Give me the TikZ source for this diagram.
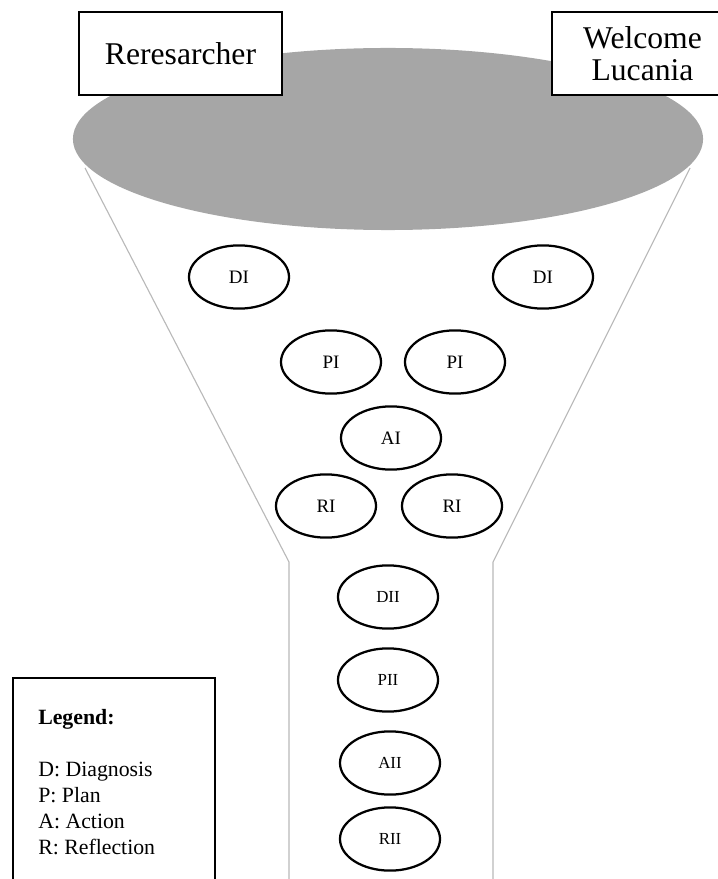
\documentclass[tikz,border=0pt]{standalone}
\usepackage{fontspec}
\setmainfont{Liberation Serif}
\usetikzlibrary{shapes.geometric}
\definecolor{funnelgray}{RGB}{166,166,166}
\definecolor{wallgray}{RGB}{185,185,185}
\tikzset{
	stage/.style={draw, ellipse, line width=1.6pt, minimum width=2.5cm, minimum height=1.58cm, inner sep=0pt, font=\fontsize{13.5}{15}\selectfont},
	substage/.style={stage, font=\fontsize{12}{14}\selectfont},
	actorbox/.style={draw, fill=white, line width=1.5pt, inner sep=0pt, align=center, font=\fontsize{22.5}{23}\selectfont},
	wall/.style={draw=wallgray, line width=0.8pt}
}
\begin{document}
\begin{tikzpicture}[x=0.025cm, y=-0.025cm]
			\useasboundingbox (0,0) rectangle (717,879);
			%\draw[help lines, color=gray!30, dashed] (0,0) grid[step=50] (717,879);
			% funnel walls
			\coordinate (wl1) at (85,168);
			\coordinate (wl2) at (289,562);
			\coordinate (wl3) at (289,890);
			\coordinate (wr1) at (690,168);
			\coordinate (wr2) at (493,562);
			\coordinate (wr3) at (493,890);
			\draw[wall] (wl1) -- (wl2) -- (wl3);
			\draw[wall] (wr1) -- (wr2) -- (wr3);
			\fill[funnelgray] (388,139) ellipse (7.875cm and 2.275cm);
			% actors
			\node[actorbox, minimum width=5.075cm, minimum height=2.075cm] (res) at (180.5,53.5) {Reresarcher};
			\node[actorbox, minimum width=4.525cm, minimum height=2.075cm] (wel) at (642.5,53.5) {Welcome\\Lucania};
			% first cycle
			\node[stage] (d1l) at (239,277) {DI};
			\node[stage] (d1r) at (543,277) {DI};
			\node[stage] (p1l) at (331,362) {PI};
			\node[stage] (p1r) at (455,362) {PI};
			\node[stage] (a1) at (391,438) {AI};
			\node[stage] (r1l) at (326,506) {RI};
			\node[stage] (r1r) at (452,506) {RI};
			% second cycle
			\node[substage] (d2) at (388,597) {DII};
			\node[substage] (p2) at (388,680) {PII};
			\node[substage] (a2) at (390,763) {AII};
			\node[substage] (r2) at (390,839) {RII};
			% legend
			\draw[line width=1.5pt] (13,890) |- (215,678) -- (215,890);
			\node[anchor=north west, inner sep=0pt, align=left, font=\fontsize{15.5}{18.5}\selectfont] (leg) at (38,709) {\textbf{Legend:}\\[18.5pt]D: Diagnosis\\P: Plan\\A: Action\\R: Reflection};
\end{tikzpicture}
\end{document}
